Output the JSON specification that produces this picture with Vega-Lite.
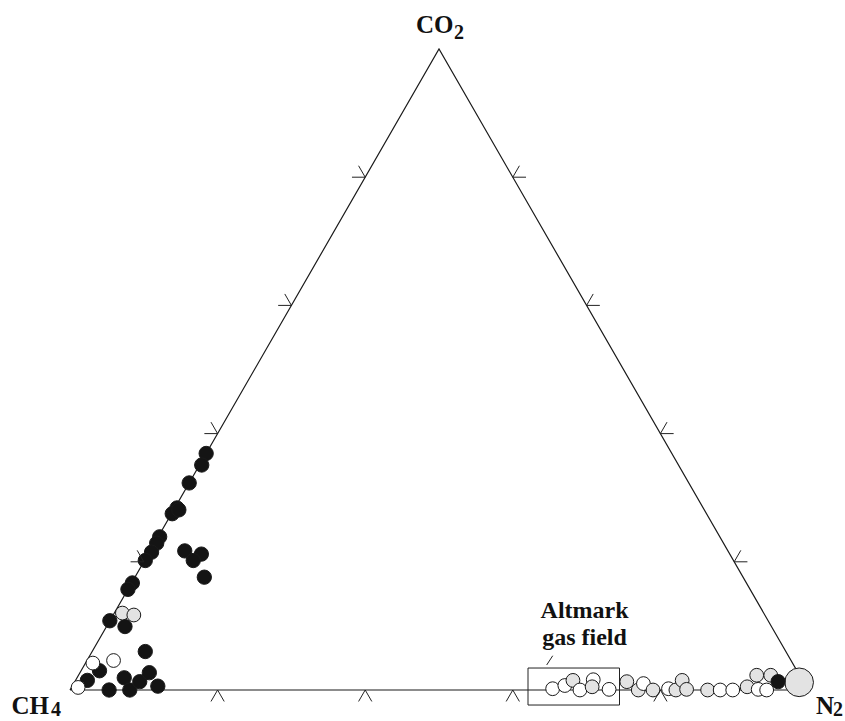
{
  "$schema": "https://vega.github.io/schema/vega-lite/v6.json",
  "width": 738,
  "height": 641,
  "autosize": {"type": "none"},
  "padding": {"left": 70, "top": 49, "right": 37, "bottom": 31},
  "background": "white",
  "config": {"view": {"stroke": null}},
  "datasets": {
    "frame": [
      {"seq": 0, "co2": 0, "n2": 0},
      {"seq": 1, "co2": 100, "n2": 0},
      {"seq": 2, "co2": 0, "n2": 100},
      {"seq": 3, "co2": 0, "n2": 0}
    ],
    "ticks": [
      {"edge": "base", "co2": 0, "n2": 20},
      {"edge": "base", "co2": 0, "n2": 40},
      {"edge": "base", "co2": 0, "n2": 60},
      {"edge": "base", "co2": 0, "n2": 80},
      {"edge": "left", "co2": 20, "n2": 0},
      {"edge": "left", "co2": 40, "n2": 0},
      {"edge": "left", "co2": 60, "n2": 0},
      {"edge": "left", "co2": 80, "n2": 0},
      {"edge": "right", "co2": 20, "n2": 80},
      {"edge": "right", "co2": 40, "n2": 60},
      {"edge": "right", "co2": 60, "n2": 40},
      {"edge": "right", "co2": 80, "n2": 20}
    ],
    "samples": [
      {"co2": 36.9, "n2": 0.0, "ch4": 63.1, "kind": "filled"},
      {"co2": 35.1, "n2": 0.3, "ch4": 64.6, "kind": "filled"},
      {"co2": 32.3, "n2": 0.0, "ch4": 67.7, "kind": "filled"},
      {"co2": 28.4, "n2": 0.3, "ch4": 71.3, "kind": "filled"},
      {"co2": 27.5, "n2": 0.1, "ch4": 72.4, "kind": "filled"},
      {"co2": 28.1, "n2": 0.7, "ch4": 71.2, "kind": "filled"},
      {"co2": 23.9, "n2": 0.2, "ch4": 75.9, "kind": "filled"},
      {"co2": 22.9, "n2": 0.3, "ch4": 76.8, "kind": "filled"},
      {"co2": 21.5, "n2": 0.3, "ch4": 78.2, "kind": "filled"},
      {"co2": 20.2, "n2": 0.1, "ch4": 79.7, "kind": "filled"},
      {"co2": 16.7, "n2": 0.1, "ch4": 83.2, "kind": "filled"},
      {"co2": 15.7, "n2": 0.0, "ch4": 84.3, "kind": "filled"},
      {"co2": 10.8, "n2": 0.0, "ch4": 89.2, "kind": "filled"},
      {"co2": 21.7, "n2": 4.7, "ch4": 73.6, "kind": "filled"},
      {"co2": 21.2, "n2": 7.2, "ch4": 71.6, "kind": "filled"},
      {"co2": 20.2, "n2": 6.6, "ch4": 73.2, "kind": "filled"},
      {"co2": 17.6, "n2": 9.4, "ch4": 73.0, "kind": "filled"},
      {"co2": 9.9, "n2": 2.5, "ch4": 87.6, "kind": "filled"},
      {"co2": 6.0, "n2": 7.2, "ch4": 86.8, "kind": "filled"},
      {"co2": 3.0, "n2": 2.5, "ch4": 94.5, "kind": "filled"},
      {"co2": 1.5, "n2": 1.6, "ch4": 96.9, "kind": "filled"},
      {"co2": 0.0, "n2": 5.3, "ch4": 94.7, "kind": "filled"},
      {"co2": 1.9, "n2": 6.4, "ch4": 91.7, "kind": "filled"},
      {"co2": 0.0, "n2": 8.1, "ch4": 91.9, "kind": "filled"},
      {"co2": 1.3, "n2": 8.8, "ch4": 89.9, "kind": "filled"},
      {"co2": 2.7, "n2": 9.4, "ch4": 87.9, "kind": "filled"},
      {"co2": 0.6, "n2": 11.6, "ch4": 87.8, "kind": "filled"},
      {"co2": 12.0, "n2": 1.1, "ch4": 86.9, "kind": "shaded"},
      {"co2": 11.7, "n2": 2.8, "ch4": 85.5, "kind": "shaded"},
      {"co2": 4.2, "n2": 1.0, "ch4": 94.8, "kind": "open"},
      {"co2": 4.6, "n2": 3.6, "ch4": 91.8, "kind": "open"},
      {"co2": 0.4, "n2": 0.9, "ch4": 98.7, "kind": "open"},
      {"co2": 0.2, "n2": 65.3, "ch4": 34.5, "kind": "open"},
      {"co2": 0.7, "n2": 66.7, "ch4": 32.6, "kind": "open"},
      {"co2": 1.5, "n2": 67.4, "ch4": 31.1, "kind": "shaded"},
      {"co2": 0.0, "n2": 69.1, "ch4": 30.9, "kind": "open"},
      {"co2": 1.6, "n2": 70.1, "ch4": 28.3, "kind": "open"},
      {"co2": 0.5, "n2": 70.5, "ch4": 29.0, "kind": "shaded"},
      {"co2": 0.1, "n2": 73.0, "ch4": 26.9, "kind": "open"},
      {"co2": 1.3, "n2": 74.8, "ch4": 23.9, "kind": "shaded"},
      {"co2": 0.0, "n2": 77.0, "ch4": 23.0, "kind": "shaded"},
      {"co2": 1.0, "n2": 77.2, "ch4": 21.8, "kind": "open"},
      {"co2": 0.0, "n2": 79.0, "ch4": 21.0, "kind": "shaded"},
      {"co2": 0.2, "n2": 81.0, "ch4": 18.8, "kind": "open"},
      {"co2": 0.0, "n2": 82.1, "ch4": 17.9, "kind": "shaded"},
      {"co2": 1.5, "n2": 82.2, "ch4": 16.3, "kind": "shaded"},
      {"co2": 0.1, "n2": 83.5, "ch4": 16.4, "kind": "shaded"},
      {"co2": 0.0, "n2": 86.4, "ch4": 13.6, "kind": "shaded"},
      {"co2": 0.0, "n2": 88.1, "ch4": 11.9, "kind": "open"},
      {"co2": 0.0, "n2": 89.8, "ch4": 10.2, "kind": "open"},
      {"co2": 0.5, "n2": 91.5, "ch4": 8.0, "kind": "shaded"},
      {"co2": 2.3, "n2": 91.9, "ch4": 5.8, "kind": "shaded"},
      {"co2": 0.1, "n2": 93.2, "ch4": 6.7, "kind": "open"},
      {"co2": 2.3, "n2": 93.8, "ch4": 3.9, "kind": "shaded"},
      {"co2": 0.0, "n2": 94.4, "ch4": 5.6, "kind": "open"},
      {"co2": 1.2, "n2": 98.2, "ch4": 0.6, "kind": "end member"},
      {"co2": 1.3, "n2": 95.3, "ch4": 3.4, "kind": "filled"}
    ],
    "callout": [
      {"x": 62.06, "x2": 74.46, "y": 2.97, "y2": -2.03}
    ],
    "leader": [
      {"x": 65.41, "y": 4.63, "x2": 64.59, "y2": 3.38}
    ],
    "fieldLabel": [
      {"x": 69.72, "y": 9.69, "text": "Altmark\ngas field"}
    ],
    "vertexLabels": [
      {"x": 46.88, "y": 88.70, "text": "CO"},
      {"x": -7.93, "y": -3.18, "text": "CH"},
      {"x": 101.08, "y": -3.18, "text": "N"}
    ],
    "subscripts": [
      {"x": 52.03, "y": 87.89, "text": "2"},
      {"x": -2.58, "y": -3.58, "text": "4"},
      {"x": 103.39, "y": -3.58, "text": "2"}
    ]
  },
  "layer": [
    {
      "data": {"name": "frame"},
      "transform": [
        {"calculate": "datum.n2 + datum.co2 / 2", "as": "x"},
        {"calculate": "datum.co2 * sqrt(3) / 2", "as": "y"}
      ],
      "mark": {"type": "line", "stroke": "#1a1a1a", "strokeWidth": 1.2},
      "encoding": {
        "x": {"field": "x", "type": "quantitative", "scale": {"domain": [0, 100], "nice": false, "zero": false}, "axis": null},
        "y": {"field": "y", "type": "quantitative", "scale": {"domain": [0, 86.6025], "nice": false, "zero": false}, "axis": null},
        "order": {"field": "seq", "type": "quantitative"}
      }
    },
    {
      "data": {"name": "samples"},
      "transform": [
        {"calculate": "datum.n2 + datum.co2 / 2", "as": "x"},
        {"calculate": "datum.co2 * sqrt(3) / 2", "as": "y"}
      ],
      "mark": {"type": "circle", "opacity": 1, "stroke": "#1a1a1a", "strokeWidth": 1},
      "encoding": {
        "x": {"field": "x", "type": "quantitative", "scale": {"domain": [0, 100], "nice": false, "zero": false}, "axis": null},
        "y": {"field": "y", "type": "quantitative", "scale": {"domain": [0, 86.6025], "nice": false, "zero": false}, "axis": null},
        "fill": {"field": "kind", "type": "nominal", "legend": null,
          "scale": {"domain": ["filled", "shaded", "open", "end member"], "range": ["#141414", "#e3e3e3", "#ffffff", "#e3e3e3"]}},
        "size": {"field": "kind", "type": "nominal", "legend": null,
          "scale": {"type": "ordinal", "domain": ["filled", "shaded", "open", "end member"], "range": [205, 190, 190, 820]}}
      }
    },
    {
      "data": {"name": "ticks"},
      "transform": [
        {"calculate": "datum.n2 + datum.co2 / 2", "as": "x"},
        {"calculate": "datum.co2 * sqrt(3) / 2", "as": "y"}
      ],
      "mark": {"type": "point", "filled": false, "opacity": 1, "stroke": "#222222", "strokeWidth": 1, "size": 700},
      "encoding": {
        "x": {"field": "x", "type": "quantitative", "scale": {"domain": [0, 100], "nice": false, "zero": false}, "axis": null},
        "y": {"field": "y", "type": "quantitative", "scale": {"domain": [0, 86.6025], "nice": false, "zero": false}, "axis": null},
        "shape": {"field": "edge", "type": "nominal", "legend": null,
          "scale": {"domain": ["base", "left", "right"],
            "range": ["M -0.5 0.866 L 0 0 L 0.5 0.866", "M -1 0 L 0 0 L -0.5 -0.866", "M 1 0 L 0 0 L 0.5 -0.866"]}}
      }
    },
    {
      "data": {"name": "callout"},
      "mark": {"type": "rect", "fill": "transparent", "stroke": "#222222", "strokeWidth": 1},
      "encoding": {
        "x": {"field": "x", "type": "quantitative", "scale": {"domain": [0, 100], "nice": false, "zero": false}, "axis": null},
        "x2": {"field": "x2"},
        "y": {"field": "y", "type": "quantitative", "scale": {"domain": [0, 86.6025], "nice": false, "zero": false}, "axis": null},
        "y2": {"field": "y2"}
      }
    },
    {
      "data": {"name": "leader"},
      "mark": {"type": "rule", "stroke": "#222222", "strokeWidth": 1},
      "encoding": {
        "x": {"field": "x", "type": "quantitative", "scale": {"domain": [0, 100], "nice": false, "zero": false}, "axis": null},
        "x2": {"field": "x2"},
        "y": {"field": "y", "type": "quantitative", "scale": {"domain": [0, 86.6025], "nice": false, "zero": false}, "axis": null},
        "y2": {"field": "y2"}
      }
    },
    {
      "data": {"name": "fieldLabel"},
      "mark": {"type": "text", "font": "Liberation Serif", "fontWeight": "bold", "fontSize": 24, "align": "center", "baseline": "alphabetic", "lineBreak": "\n", "lineHeight": 27, "color": "#111111"},
      "encoding": {
        "x": {"field": "x", "type": "quantitative", "scale": {"domain": [0, 100], "nice": false, "zero": false}, "axis": null},
        "y": {"field": "y", "type": "quantitative", "scale": {"domain": [0, 86.6025], "nice": false, "zero": false}, "axis": null},
        "text": {"field": "text"}
      }
    },
    {
      "data": {"name": "vertexLabels"},
      "mark": {"type": "text", "font": "Liberation Serif", "fontWeight": "bold", "fontSize": 25, "align": "left", "baseline": "alphabetic", "color": "#111111"},
      "encoding": {
        "x": {"field": "x", "type": "quantitative", "scale": {"domain": [0, 100], "nice": false, "zero": false}, "axis": null},
        "y": {"field": "y", "type": "quantitative", "scale": {"domain": [0, 86.6025], "nice": false, "zero": false}, "axis": null},
        "text": {"field": "text"}
      }
    },
    {
      "data": {"name": "subscripts"},
      "mark": {"type": "text", "font": "Liberation Serif", "fontWeight": "bold", "fontSize": 20, "align": "left", "baseline": "alphabetic", "color": "#111111"},
      "encoding": {
        "x": {"field": "x", "type": "quantitative", "scale": {"domain": [0, 100], "nice": false, "zero": false}, "axis": null},
        "y": {"field": "y", "type": "quantitative", "scale": {"domain": [0, 86.6025], "nice": false, "zero": false}, "axis": null},
        "text": {"field": "text"}
      }
    }
  ]
}
